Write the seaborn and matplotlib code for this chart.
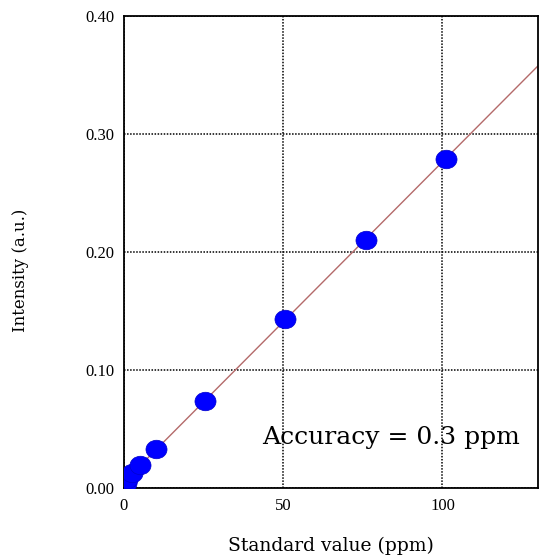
import numpy as np
import pandas as pd
import matplotlib
matplotlib.use("Agg")
import matplotlib.pyplot as plt
from matplotlib.path import Path
import seaborn as sns

# calibration data
standard_ppm = [0.5, 1, 2.5, 5, 10, 25.5, 50.5, 76, 101]
intensity = [0.004, 0.008, 0.013, 0.0195, 0.033, 0.074, 0.1435, 0.2105, 0.279]
x_ticks = [0, 50, 100]
y_ticks = [0.0, 0.1, 0.2, 0.3, 0.4]
y_tick_labels = ["0.00", "0.10", "0.20", "0.30", "0.40"]

df = pd.DataFrame({"std": standard_ppm, "inten": intensity})

sns.set_style("white")
plt.rcParams["font.family"] = ["DejaVu Serif"]
plt.rcParams["text.color"] = "black"
plt.rcParams["axes.labelcolor"] = "black"

fig = plt.figure(figsize=(5.4, 5.55), dpi=100)
ax = fig.add_axes([0.2296, 0.1207, 0.7667, 0.8505])

# linear fit through the standards
slope, intercept = np.polyfit(df["std"], df["inten"], 1)
fit = pd.DataFrame({"std": [0, 130]})
fit["inten"] = intercept + slope * fit["std"]
sns.lineplot(data=fit, x="std", y="inten", ax=ax, color="#b46a6a", lw=1.0, zorder=2)

# slightly flattened circle marker like the original
circ = Path.unit_circle()
ellipse = Path(circ.vertices * np.array([1.0, 0.88]), circ.codes)
sns.scatterplot(data=df, x="std", y="inten", ax=ax, marker=ellipse, s=230,
                color="#0000ff", edgecolor="#0000cc", linewidth=0.5, zorder=3)

ax.set_xlim(0, 130)
ax.set_ylim(0, 0.40)
ax.set_xticks(x_ticks)
ax.set_yticks(y_ticks)
ax.set_yticklabels(y_tick_labels)
ax.tick_params(direction="out", length=5, width=1.2, color="black",
               labelcolor="black", pad=2)
for lab in ax.get_xticklabels() + ax.get_yticklabels():
    lab.set_fontfamily("Liberation Serif")
    lab.set_fontsize(12)

ax.grid(True, linestyle=(0, (1, 1)), color="black", lw=1.1)
ax.set_axisbelow(True)
for sp in ax.spines.values():
    sp.set_color("black")
    sp.set_linewidth(1.3)

ax.set_xlabel("Standard value (ppm)", fontsize=13.5, va="center")
ax.set_ylabel("Intensity (a.u.)", fontsize=12, va="center", ha="center")
ax.xaxis.set_label_coords(0.5, -0.123)
ax.yaxis.set_label_coords(-0.251, 0.462)

ax.text(0.957, 0.106, "Accuracy = 0.3 ppm", transform=ax.transAxes,
        ha="right", va="center", fontsize=18)

fig.savefig("out.png", dpi=100)
